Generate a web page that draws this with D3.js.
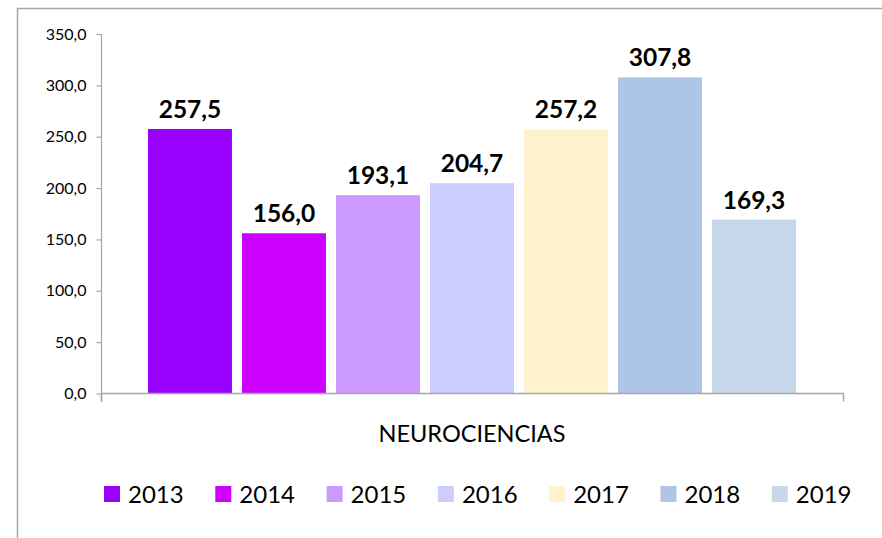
<!DOCTYPE html>
<html><head><meta charset="utf-8">
<script src="https://cdn.jsdelivr.net/npm/d3@7"></script>
<style>html,body{margin:0;padding:0;background:#fff;}svg{display:block;}</style>
</head><body>
<svg id="c" width="882" height="538"></svg>
<script>
const category = "NEUROCIENCIAS";
const years = ["2013","2014","2015","2016","2017","2018","2019"];
const values = [257.5, 156.0, 193.1, 204.7, 257.2, 307.8, 169.3];
const colors = ["#9900FF","#CC00FF","#CC99FF","#CCCCFF","#FFF2CC","#ADC6E6","#C6D7EC"];
const yTicks = [0,50,100,150,200,250,300,350];

const svg = d3.select("#c");
const font = "Lato, 'Open Sans', sans-serif";
const fmt = v => v.toFixed(1).replace(".", ",");

// frame
svg.append("path").attr("d","M17.5,538V8.5H882").attr("fill","none").attr("stroke","#A6A6A6").attr("stroke-width",1.5);

const x0 = d3.scaleBand().domain([category]).range([101, 843]).paddingOuter(0).paddingInner(0);
const x1 = d3.scaleBand().domain(years).range([148, 796]).paddingInner(0.107).paddingOuter(0);
const y = d3.scaleLinear().domain([0, 350]).range([393.5, 34]);

// y axis
const ya = svg.append("g").attr("transform","translate(101.5,0)")
  .call(d3.axisLeft(y).tickValues(yTicks).tickSize(5).tickPadding(10).tickFormat(fmt));
ya.select(".domain").attr("stroke","#A6A6A6").attr("stroke-width",1.2).attr("d","M0,34V402");
ya.selectAll(".tick line").attr("stroke","#A6A6A6").attr("stroke-width",1.2);
ya.selectAll(".tick text").attr("font-family",font).attr("font-size",16).attr("fill","#000");

// bars
svg.selectAll("rect.bar").data(years).join("rect").attr("class","bar")
  .attr("x", d => x1(d)).attr("width", x1.bandwidth())
  .attr("y", (d,i) => y(values[i])).attr("height", (d,i) => y(0) - y(values[i]))
  .attr("fill", (d,i) => colors[i]);

// x axis
const xa = svg.append("g").attr("transform","translate(0,393.5)")
  .call(d3.axisBottom(x0).tickSize(0).tickFormat(() => ""));
xa.select(".domain").attr("stroke","#A6A6A6").attr("stroke-width",1.5).attr("d","M101.5,8V0H843.5V8");

// value labels
svg.selectAll("text.val").data(years).join("text").attr("class","val")
  .attr("x", d => x1(d) + x1.bandwidth()/2)
  .attr("y", (d,i) => y(values[i]) - 11)
  .attr("text-anchor","middle").attr("font-family",font).attr("font-weight","bold")
  .attr("font-size",24.5).attr("fill","#000")
  .text((d,i) => fmt(values[i]));

// category label
svg.append("text").attr("x", x0(category) + x0.bandwidth()/2).attr("y", 441.5)
  .attr("text-anchor","middle").attr("font-family",font).attr("font-size",23.5).attr("fill","#000")
  .text(category);

// legend
const lg = svg.append("g");
const items = lg.selectAll("g").data(years).join("g")
  .attr("transform", (d,i) => `translate(${104 + i*111.3},486)`);
items.append("rect").attr("width",16).attr("height",16).attr("fill",(d,i)=>colors[i]);
items.append("text").attr("x",24).attr("y",17).attr("font-family",font).attr("font-size",24)
  .attr("fill","#000").text(d => d);
</script>
</body></html>
